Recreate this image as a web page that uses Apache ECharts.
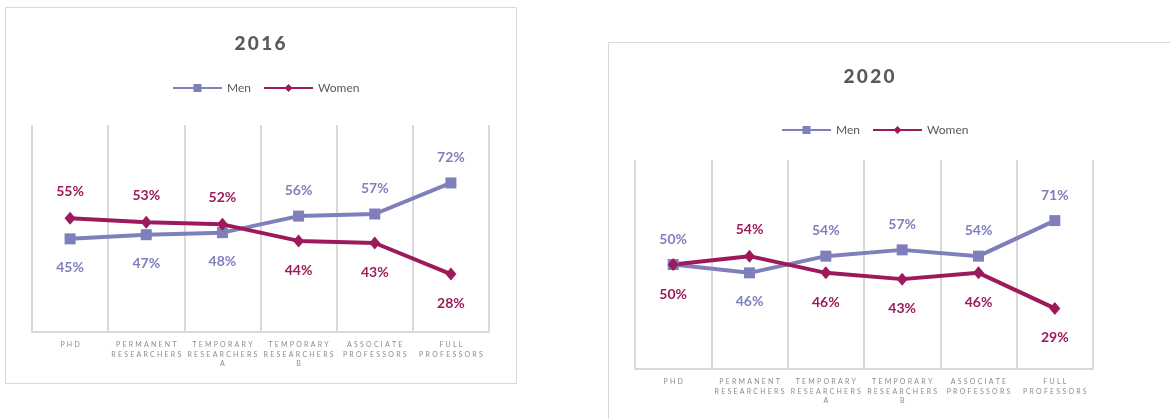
<!DOCTYPE html>
<html>
<head>
<meta charset="utf-8">
<script src="https://cdn.jsdelivr.net/npm/echarts@6/dist/echarts.min.js"></script>
<style>
  html, body { margin: 0; padding: 0; background: #ffffff; }
  #chart { width: 1170px; height: 419px; }
</style>
</head>
<body>
<div id="chart"></div>
<script>
// Share of men and women (%) by career stage
const categories = ['PhD', 'Permanent Researchers', 'Temporary Researchers A',
                    'Temporary Researchers B', 'Associate Professors', 'Full Professors'];
const years = ['2016', '2020'];
const men2016 = [45, 47, 48, 56, 57, 72];
const women2016 = [55, 53, 52, 44, 43, 28];
const men2020 = [50, 46, 54, 57, 54, 71];
const women2020 = [50, 54, 46, 43, 46, 29];

const MEN_COLOR = '#7f7fbb';
const WOMEN_COLOR = '#9c1a5c';
const FONT = 'Lato, "Liberation Sans", sans-serif';

// Category names: upper case, letters spread out, one word per line
function spacedLabel(name) {
  return name.toUpperCase().split(' ')
    .map(w => w.split('').join(' \u200A'))
    .join('\n');
}

// Label goes above the point when this series is the higher one at that stage
function withLabels(values, other, preferTopOnTie) {
  return values.map((v, i) => {
    const above = preferTopOnTie ? v >= other[i] : v > other[i];
    return {
      value: v,
      label: { position: above ? 'top' : 'bottom', distance: above ? 13 : 16 }
    };
  });
}

const grids = [
  { left: 32, right: 681, top: 125, bottom: 87 },
  { left: 635, right: 77, top: 160, bottom: 50 }
];

function xAxisFor(idx) {
  return {
    type: 'category', gridIndex: idx, data: categories, boundaryGap: true,
    axisLine: { lineStyle: { color: '#d9d9d9', width: 2 } },
    axisTick: { show: false },
    splitLine: { show: true, interval: 0, lineStyle: { color: '#d9d9d9', width: 2 } },
    axisLabel: {
      interval: 0, margin: 8, formatter: spacedLabel,
      color: '#8c8c8c', fontSize: 7, lineHeight: 9.5, fontFamily: FONT
    }
  };
}
function yAxisFor(idx) {
  return { type: 'value', gridIndex: idx, min: 0, max: 100, show: false };
}

function lineSeries(name, values, other, idx, isMen) {
  const color = isMen ? MEN_COLOR : WOMEN_COLOR;
  return {
    name: name, type: 'line', xAxisIndex: idx, yAxisIndex: idx,
    data: withLabels(values, other, isMen),
    symbol: isMen ? 'rect' : 'diamond',
    symbolSize: isMen ? 11 : [11, 13],
    lineStyle: { color: color, width: 4 },
    itemStyle: { color: color },
    label: {
      show: true, formatter: '{c}%', color: color,
      fontSize: 14, fontWeight: 'bold', fontFamily: FONT
    },
    emphasis: { disabled: true },
    animation: false
  };
}

const legendBase = {
  itemWidth: 49, itemHeight: 10, itemGap: 12, padding: 0,
  data: ['Men', 'Women'], selectedMode: false,
  textStyle: { fontSize: 12, color: '#595959', fontFamily: FONT }
};

const chart = echarts.init(document.getElementById('chart'), null, { renderer: 'canvas' });
chart.setOption({
  backgroundColor: '#ffffff',
  graphic: [
    { type: 'rect', shape: { x: 5.5, y: 7.5, width: 511, height: 376 },
      style: { fill: 'none', stroke: '#d9d9d9', lineWidth: 1 }, silent: true },
    { type: 'rect', shape: { x: 608.5, y: 42.5, width: 600, height: 400 },
      style: { fill: 'none', stroke: '#d9d9d9', lineWidth: 1 }, silent: true }
  ],
  title: [
    { text: years[0].split('').join('\u2009'), left: 255, top: 29, textAlign: 'center',
      textStyle: { fontSize: 19, fontWeight: 900, color: '#595959', fontFamily: FONT } },
    { text: years[1].split('').join('\u2009'), left: 864, top: 62, textAlign: 'center',
      textStyle: { fontSize: 19, fontWeight: 900, color: '#595959', fontFamily: FONT } }
  ],
  legend: [
    Object.assign({ left: 172, top: 82 }, legendBase),
    Object.assign({ left: 781, top: 124 }, legendBase)
  ],
  grid: grids,
  xAxis: [xAxisFor(0), xAxisFor(1)],
  yAxis: [yAxisFor(0), yAxisFor(1)],
  series: [
    lineSeries('Men', men2016, women2016, 0, true),
    lineSeries('Women', women2016, men2016, 0, false),
    lineSeries('Men', men2020, women2020, 1, true),
    lineSeries('Women', women2020, men2020, 1, false)
  ]
});
</script>
</body>
</html>
